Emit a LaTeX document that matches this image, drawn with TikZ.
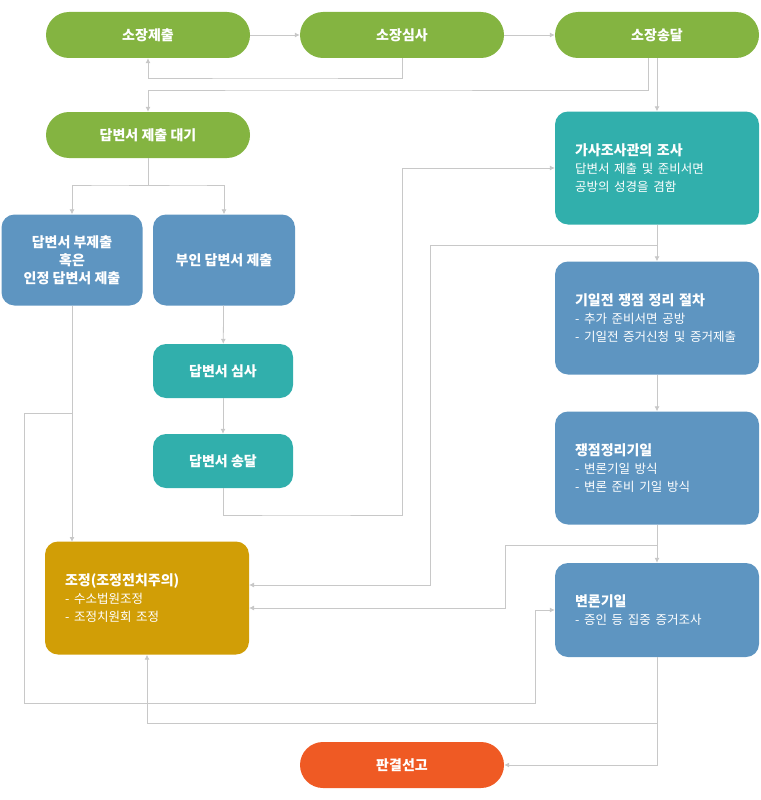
\documentclass[tikz,border=0pt]{standalone}
\usepackage{fontspec}
\setmainfont{Noto Sans CJK KR}
\usetikzlibrary{positioning,arrows.meta}
\definecolor{grn}{HTML}{84B441}
\definecolor{blu}{HTML}{5E95C1}
\definecolor{tea}{HTML}{31AFAC}
\definecolor{gld}{HTML}{D19E06}
\definecolor{org}{HTML}{EF5A24}
\definecolor{lin}{HTML}{C8C8C8}
\newcommand\smtxt[1]{{\fontsize{12.5}{22}\selectfont\mdseries #1}}
\tikzset{
  box/.style={rounded corners=13pt,text=white,font=\fontsize{14}{18}\selectfont\bfseries,align=center,inner sep=0pt},
  pill/.style={box,fill=grn,minimum width=204pt,minimum height=46pt,rounded corners=23pt},
  lbox/.style={box,align=left,text width=164pt,inner xsep=20pt,minimum height=#1},
  con/.style={draw=lin,line width=0.8pt,-{Latex[length=5pt,width=5pt]}}
}
\begin{document}
\begin{tikzpicture}[x=1pt,y=-1pt]
\useasboundingbox (0,0) rectangle (760,800);
%
\node[pill] (sojang) at (148,35) {소장제출};
\node[pill] (simsa) at (402,35) {소장심사};
\node[pill] (songdal) at (657,35) {소장송달};
\node[pill] (daegi) at (148,135) {답변서 제출 대기};
\node[box,fill=blu,minimum width=141pt,minimum height=91pt] (bujechul) at (72,260) {답변서 부제출\\혹은\\인정 답변서 제출};
\node[box,fill=blu,minimum width=142pt,minimum height=91pt] (buin) at (224,260) {부인 답변서 제출};
\node[box,fill=tea,minimum width=140pt,minimum height=54pt] (dsimsa) at (223,371) {답변서 심사};
\node[box,fill=tea,minimum width=140pt,minimum height=54pt] (dsong) at (223,461) {답변서 송달};
\node[box,lbox=113pt,fill=gld] (jojeong) at (147,598) {조정(조정전치주의)\\\smtxt{- 수소법원조정}\\\smtxt{- 조정치원회 조정}};
\node[pill,fill=org] (pangyeol) at (402,765) {판결선고};
\node[box,lbox=113pt,fill=tea] (josa) at (657,168) {가사조사관의 조사\\\smtxt{답변서 제출 및 준비서면}\\\smtxt{공방의 성경을 겸함}};
\node[box,lbox=113pt,fill=blu] (giiljeon) at (657,318) {기일전 쟁점 정리 절차\\\smtxt{- 추가 준비서면 공방}\\\smtxt{- 기일전 증거신청 및 증거제출}};
\node[box,lbox=113pt,fill=blu] (jaengjeom) at (657,468) {쟁점정리기일\\\smtxt{- 변론기일 방식}\\\smtxt{- 변론 준비 기일 방식}};
\node[box,lbox=94pt,fill=blu] (byeollon) at (657,610) {변론기일\\\smtxt{- 증인 등 집중 증거조사}};
%
\draw[con] (sojang) -- (simsa);
\draw[con] (simsa) -- (songdal);
\draw[con] (simsa.south) |- (275,78) -| (sojang.south);
\draw[con] (648,58) |- (300,90) -| (daegi.north);
\draw[con] (songdal) -- (josa);
\draw[con] (daegi.south) |- (110,185) -| (bujechul.north);
\draw[con] (daegi.south) |- (190,185) -| (buin.north);
\draw[con] (buin) -- (dsimsa);
\draw[con] (dsimsa) -- (dsong);
\draw[con] (dsong.south) |- (300,515) -- (402,515) |- (josa.west);
\draw[con] (bujechul.south) -- (72,542);
\draw[con] (72,413) -| (24,703) -| (535,610) -- (byeollon.west);
\draw[con] (josa) -- (giiljeon);
\draw[con] (657,245) -| (430,585) -- (249,585);
\draw[con] (giiljeon) -- (jaengjeom);
\draw[con] (jaengjeom) -- (byeollon);
\draw[con] (657,545) -| (505,608) -- (249,608);
\draw[con] (byeollon.south) |- (pangyeol.east);
\draw[con] (657,723) -| (jojeong.south);
\end{tikzpicture}
\end{document}
